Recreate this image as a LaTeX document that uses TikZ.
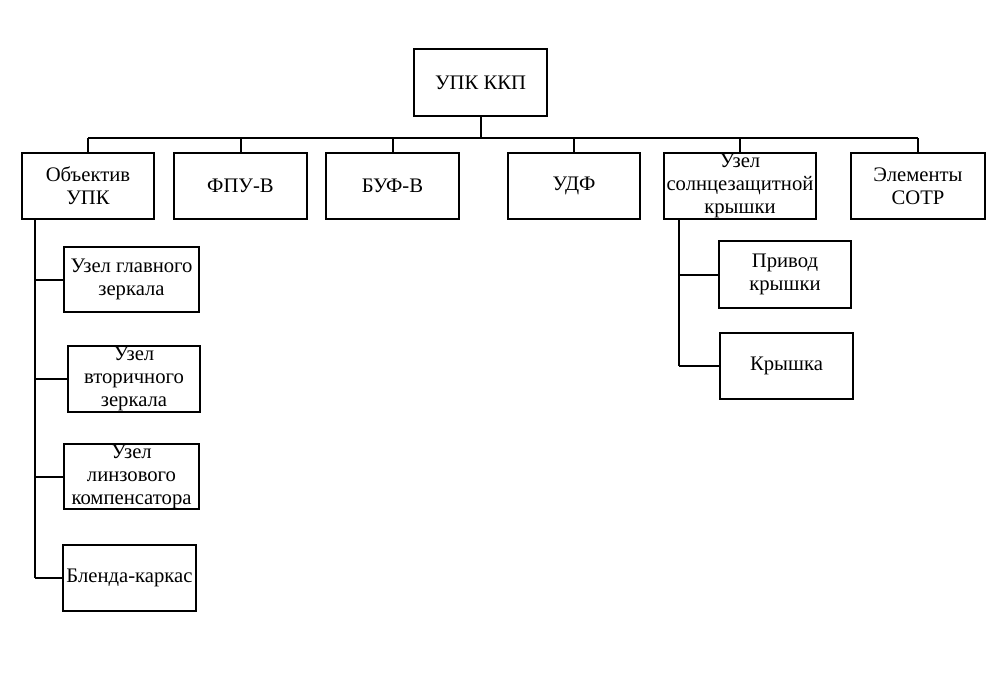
\documentclass[tikz,border=0pt]{standalone}
\usepackage{fontspec}
\setmainfont{Liberation Serif}
\begin{document}
\begin{tikzpicture}[x=0.75pt,y=-0.75pt,
  box/.style={draw,line width=1.5pt,inner sep=0pt,align=center,
    font=\fontsize{15.5}{17.25}\selectfont},
  conn/.style={line width=1.5pt}]
\useasboundingbox (0,0) rectangle (989,683);
% root
\node[box,minimum width=133*0.75pt,minimum height=67*0.75pt] (top) at (480.5,82.5) {УПК ККП};
% level 1
\node[box,minimum width=132*0.75pt,minimum height=66*0.75pt] (obj) at (88,186) {Объектив\\УПК};
\node[box,minimum width=133*0.75pt,minimum height=66*0.75pt] (fpu) at (240.5,186) {ФПУ-В};
\node[box,minimum width=133*0.75pt,minimum height=66*0.75pt] (buf) at (392.5,186) {БУФ-В};
\node[box,minimum width=132*0.75pt,minimum height=66*0.75pt] (udf) at (574,186) {УДФ};
\node[box,minimum width=152*0.75pt,minimum height=66*0.75pt] (uzs) at (740,186) {Узел\\солнцезащитной\\крышки};
\node[box,minimum width=134*0.75pt,minimum height=66*0.75pt] (elem) at (918,186) {Элементы\\СОТР};
% children of objective
\node[box,minimum width=135*0.75pt,minimum height=65*0.75pt] (g1) at (131.5,279.5) {Узел главного\\зеркала};
\node[box,minimum width=132*0.75pt,minimum height=66*0.75pt] (g2) at (134,379) {Узел\\вторичного\\зеркала};
\node[box,minimum width=135*0.75pt,minimum height=65*0.75pt] (g3) at (131.5,476.5) {Узел\\линзового\\компенсатора};
\node[box,minimum width=133*0.75pt,minimum height=66*0.75pt] (g4) at (129.5,578) {Бленда-каркас};
% children of cover unit
\node[box,minimum width=132*0.75pt,minimum height=67*0.75pt] (p1) at (785,274.5) {Привод\\крышки};
\node[box,minimum width=133*0.75pt,minimum height=66*0.75pt] (p2) at (786.5,366) {Крышка};
% bus
\coordinate (busL) at (88,138);
\coordinate (busR) at (918,138);
\draw[conn] (top.south) -- (top.south |- busL);
\draw[conn] (busL) -- (busR);
\foreach \n in {obj,fpu,buf,udf,uzs,elem}
  \draw[conn] (\n.north) -- (\n.north |- busL);
% left spine
\coordinate (spL) at (35,0);
\draw[conn] (spL |- obj.south) -- (spL |- g4.west);
\foreach \n in {g1,g2,g3,g4}
  \draw[conn] (spL |- \n.west) -- (\n.west);
% right spine
\coordinate (spR) at (679,0);
\draw[conn] (spR |- uzs.south) -- (spR |- p2.west);
\foreach \n in {p1,p2}
  \draw[conn] (spR |- \n.west) -- (\n.west);
\end{tikzpicture}
\end{document}
